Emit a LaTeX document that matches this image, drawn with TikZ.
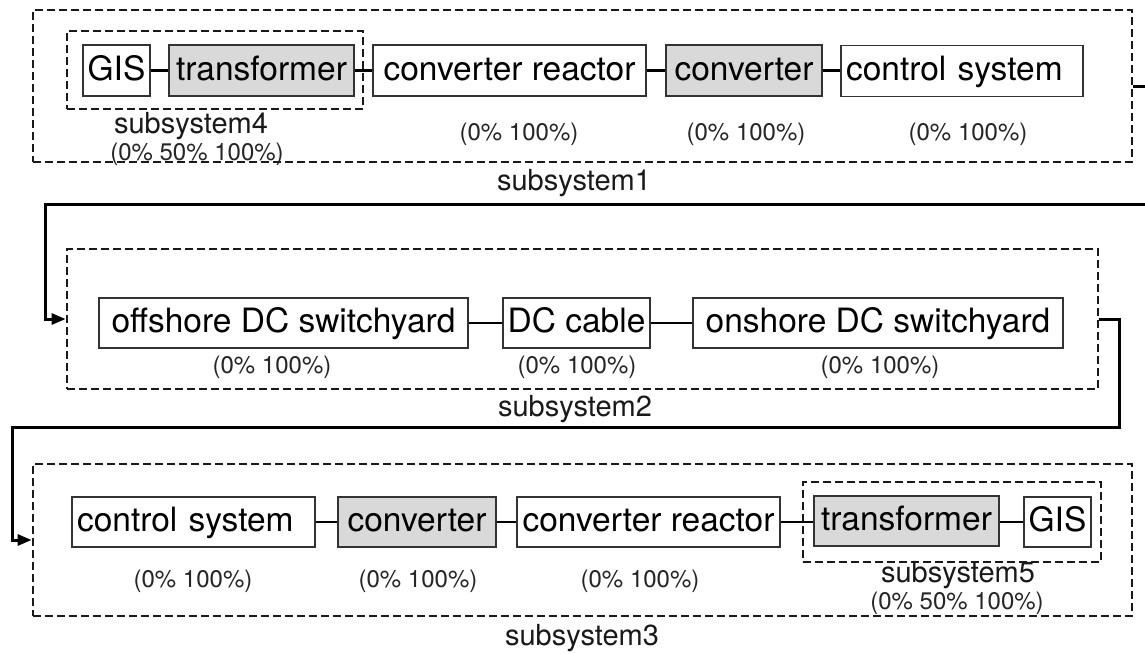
\documentclass[tikz,border=0pt]{standalone}
\usepackage{fontspec}
\setmainfont{TeX Gyre Heros}
\usetikzlibrary{arrows.meta}
\definecolor{boxgray}{RGB}{217,217,217}
\begin{document}
\begin{tikzpicture}[x=1pt,y=-1pt,
  blk/.style={draw=black!80, line width=1.5pt, inner sep=0pt,
    font=\fontsize{33.5}{38}\selectfont, text height=25pt, text depth=6pt},
  shaded/.style={blk, fill=boxgray},
  grp/.style={draw=black!90, line width=2.8pt, dash pattern=on 8pt off 4pt, inner sep=0pt},
  pct/.style={font=\fontsize{24}{28}\selectfont, text=black!85, inner sep=0pt},
  sublbl/.style={font=\fontsize{29}{32}\selectfont, text=black!90, inner sep=0pt},
  wire/.style={draw=black, line width=2.4pt},
  flow/.style={draw=black, line width=3pt, -{Triangle[length=14pt,width=11pt]}}]
\clip (0,0) rectangle (1145,653);
\fill[white] (0,0) rectangle (1145,653);

% ---- subsystem 1 ----
\node[grp, minimum width=1099pt, minimum height=152pt] (sub1) at (582.5,86) {};
\node[grp, minimum width=296pt, minimum height=78pt] (sub4) at (215,70) {};
\node[blk, minimum width=67pt, minimum height=51pt] (gis1) at (116.5,70.5) {GIS};
\node[shaded, minimum width=185pt, minimum height=51pt] (tr1) at (261.5,70.5) {transformer};
\node[blk, minimum width=273pt, minimum height=51pt] (cr1) at (509.5,70.5) {converter reactor};
\node[shaded, minimum width=156pt, minimum height=51pt] (cv1) at (744,70.5) {converter};
\node[blk, minimum width=242pt, minimum height=51pt, text width=232pt, align=left] (cs1) at (962,71) {control system};
\draw[wire] (gis1) -- (tr1);
\draw[wire] (tr1) -- (cr1);
\draw[wire] (cr1) -- (cv1);
\draw[wire] (cv1) -- (cs1.west |- cv1);
\node[sublbl] (s4lbl) at (191,126) {subsystem4};
\node[pct] (s4pct) at (197,154) {(0\% 50\% 100\%)};
\node[pct] (p1b) at (519,134) {(0\% 100\%)};
\node[pct] (p1c) at (746,134) {(0\% 100\%)};
\node[pct] (p1d) at (968,134) {(0\% 100\%)};
\node[sublbl] (s1lbl) at (574,183) {subsystem1};

% ---- subsystem 2 ----
\node[grp, minimum width=1031pt, minimum height=140pt] (sub2) at (582.5,319) {};
\node[blk, minimum width=369pt, minimum height=50pt] (off) at (283.5,323) {offshore DC switchyard};
\node[blk, minimum width=147pt, minimum height=50pt] (dcc) at (576.5,323) {DC cable};
\node[blk, minimum width=370pt, minimum height=50pt] (on) at (878,323) {onshore DC switchyard};
\draw[wire] (off) -- (dcc);
\draw[wire] (dcc) -- (on);
\node[pct] (p2a) at (272,367) {(0\% 100\%)};
\node[pct] (p2b) at (577,367) {(0\% 100\%)};
\node[pct] (p2c) at (880,367) {(0\% 100\%)};
\node[sublbl] (s2lbl) at (575,409) {subsystem2};

% ---- subsystem 3 ----
\node[grp, minimum width=1099pt, minimum height=152pt] (sub3) at (582.5,540) {};
\node[grp, minimum width=298pt, minimum height=80pt] (sub5) at (952,522) {};
\node[blk, minimum width=243pt, minimum height=50pt, text width=233pt, align=left] (cs3) at (193.5,522) {control system};
\node[shaded, minimum width=158pt, minimum height=50pt] (cv3) at (417,522) {converter};
\node[blk, minimum width=263pt, minimum height=50pt] (cr3) at (648.5,522) {converter reactor};
\node[shaded, minimum width=185pt, minimum height=50pt] (tr3) at (906.5,521) {transformer};
\node[blk, minimum width=67pt, minimum height=50pt] (gis3) at (1057.5,522) {GIS};
\draw[wire] (cs3) -- (cv3);
\draw[wire] (cv3) -- (cr3);
\draw[wire] (cr3) -- (tr3.west |- cr3);
\draw[wire] (tr3.east |- gis3) -- (gis3);
\node[pct] (p3a) at (193,581) {(0\% 100\%)};
\node[pct] (p3b) at (418,581) {(0\% 100\%)};
\node[pct] (p3c) at (640,581) {(0\% 100\%)};
\node[sublbl] (s5lbl) at (958,575) {subsystem5};
\node[pct] (s5pct) at (957,603) {(0\% 50\% 100\%)};
\node[sublbl] (s3lbl) at (582,638) {subsystem3};

% ---- links between subsystems ----
\coordinate (r1a) at (1153,86);
\coordinate (r1b) at (1153,204);
\coordinate (l1) at (45,204);
\draw[flow] (sub1.east) -- (r1a) -- (r1b) -- (l1) |- (sub2.west);
\coordinate (r2a) at (1119,319);
\coordinate (r2b) at (1119,427);
\coordinate (l2) at (12,427);
\draw[flow] (sub2.east) -- (r2a) -- (r2b) -- (l2) |- (sub3.west);
\end{tikzpicture}
\end{document}
